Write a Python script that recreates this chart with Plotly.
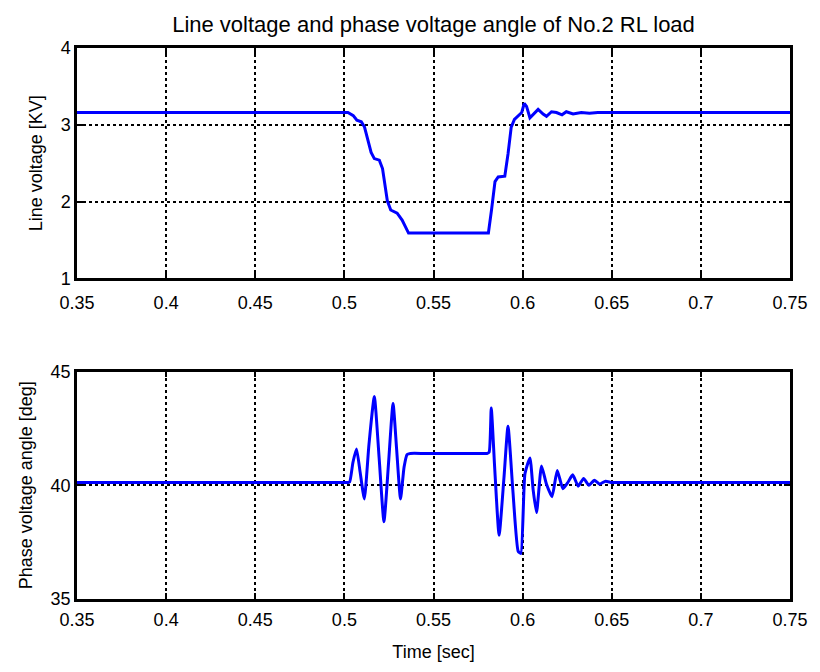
import plotly.graph_objects as go

# ---- data ----
x_ticks = [0.35, 0.4, 0.45, 0.5, 0.55, 0.6, 0.65, 0.7, 0.75]
x_tick_labels = ["0.35", "0.4", "0.45", "0.5", "0.55", "0.6", "0.65", "0.7", "0.75"]
v_ticks = [1, 2, 3, 4]
a_ticks = [35, 40, 45]

t_voltage = [0.35, 0.502, 0.505, 0.507, 0.5095, 0.5113, 0.515, 0.5168, 0.5196, 0.5214,
             0.5241, 0.526, 0.5296, 0.5324, 0.536, 0.5808, 0.5826, 0.5845, 0.5863, 0.590,
             0.5918, 0.5936, 0.5954, 0.5982, 0.5995, 0.6009, 0.6022, 0.6041, 0.6069, 0.6087,
             0.6115, 0.6134, 0.6162, 0.619, 0.6221, 0.6245, 0.6283, 0.6329, 0.6375, 0.6422, 0.75]
line_voltage = [3.16, 3.16, 3.12, 3.06, 3.04, 2.97, 2.64, 2.56, 2.54, 2.43,
                2.01, 1.89, 1.85, 1.76, 1.59, 1.59, 1.90, 2.26, 2.32, 2.33,
                2.62, 2.97, 3.07, 3.13, 3.16, 3.28, 3.24, 3.09, 3.16, 3.20,
                3.14, 3.11, 3.17, 3.16, 3.13, 3.17, 3.14, 3.16, 3.15, 3.16, 3.16]

t_angle = [0.35, 0.40, 0.45, 0.49, 0.500, 0.502, 0.503, 0.5048, 0.5068, 0.5088,
           0.5112, 0.5138, 0.5168, 0.5195, 0.5222, 0.5248, 0.5273, 0.5293, 0.5315, 0.5335,
           0.5352, 0.537, 0.545, 0.56, 0.575, 0.580, 0.5812, 0.5824, 0.5843, 0.5868,
           0.5895, 0.5918, 0.5945, 0.5975, 0.599, 0.6013, 0.6041, 0.6059, 0.6078, 0.6106,
           0.6133, 0.6165, 0.6194, 0.6226, 0.6252, 0.6281, 0.6312, 0.6342, 0.6372, 0.6402,
           0.6432, 0.6465, 0.650, 0.655, 0.66, 0.70, 0.75]
phase_angle = [40.12, 40.12, 40.12, 40.12, 40.12, 40.12, 40.15, 41.0, 41.6, 40.6,
               39.4, 41.8, 43.9, 41.2, 38.4, 41.0, 43.6, 41.6, 39.4, 40.8,
               41.35, 41.4, 41.4, 41.4, 41.4, 41.4, 41.45, 43.4, 40.8, 37.8,
               40.3, 42.6, 39.8, 37.1, 37.0, 40.5, 41.2, 39.8, 38.8, 40.85,
               40.07, 39.5, 40.65, 39.85, 40.1, 40.46, 39.96, 40.3, 40.0, 40.22,
               40.05, 40.18, 40.12, 40.12, 40.12, 40.12, 40.12]

FONT = "Liberation Sans, Arial, sans-serif"

fig = go.Figure()
fig.add_trace(go.Scatter(x=t_voltage, y=line_voltage, mode="lines",
                         line=dict(color="#0000ff", width=3),
                         xaxis="x", yaxis="y", showlegend=False))
fig.add_trace(go.Scatter(x=t_angle, y=phase_angle, mode="lines",
                         line=dict(color="#0000ff", width=3, shape="spline", smoothing=0.5),
                         xaxis="x2", yaxis="y2", showlegend=False))

axis_common = dict(
    showgrid=True, gridcolor="black", griddash="dot", gridwidth=1.5,
    showline=True, linecolor="black", linewidth=2.5, mirror="ticks",
    ticks="inside", ticklen=6, tickwidth=2, tickcolor="black",
    zeroline=False, tickfont=dict(family=FONT, size=18, color="black"),
)

fig.update_layout(
    width=820, height=672,
    margin=dict(l=77, r=22, t=48, b=62),
    paper_bgcolor="white", plot_bgcolor="white",
    font=dict(family=FONT, size=18, color="black"),
    title=dict(text="Line voltage and phase voltage angle of No.2 RL load",
               x=0.5, xref="paper", xanchor="center",
               y=1 - 24 / 672, yref="container", yanchor="middle",
               font=dict(family=FONT, size=22, color="black")),
    xaxis=dict(axis_common, domain=[0, 1], range=[0.35, 0.75],
               tickvals=x_ticks, ticktext=x_tick_labels, anchor="y",
               ticklabelstandoff=6),
    yaxis=dict(axis_common, domain=[0.5819, 1], range=[1, 4], tickvals=v_ticks,
               anchor="x",
               title=dict(text="Line voltage [KV]", standoff=14,
                          font=dict(family=FONT, size=18))),
    xaxis2=dict(axis_common, domain=[0, 1], range=[0.35, 0.75],
                tickvals=x_ticks, ticktext=x_tick_labels, anchor="y2",
                ticklabelstandoff=3,
                title=dict(text="Time [sec]", standoff=17,
                           font=dict(family=FONT, size=18))),
    yaxis2=dict(axis_common, domain=[0, 0.4128], range=[35, 45], tickvals=a_ticks,
                anchor="x2",
                title=dict(text="Phase voltage angle [deg]", standoff=14,
                           font=dict(family=FONT, size=18))),
)

fig.write_html("out.html",
               config={"displayModeBar": False},
               post_script="document.body.style.margin='0';document.body.style.overflow='hidden';")
